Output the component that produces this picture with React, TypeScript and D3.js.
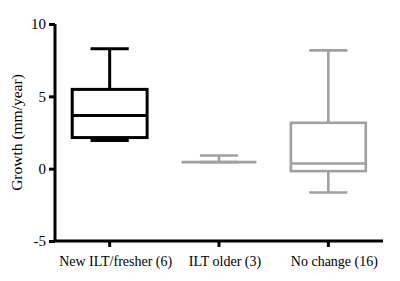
import { useEffect, useRef } from 'react';
import * as d3 from 'd3';

const categories = ['New ILT/fresher (6)', 'ILT older (3)', 'No change (16)'];
const mins = [1.95, 0.45, -1.65];
const q1s = [2.15, 0.45, -0.17];
const medians = [3.68, 0.45, 0.36];
const q3s = [5.48, 0.45, 3.17];
const maxs = [8.29, 0.91, 8.18];
const yTicks = [-5, 0, 5, 10];

const strokeColors = ['#000000', '#a0a0a0', '#a0a0a0'];

export default function App() {
  const svgRef = useRef<SVGSVGElement>(null);

  useEffect(() => {
    if (!svgRef.current) return;
    const width = 400;
    const height = 281;
    const margin = { top: 24, right: 17, bottom: 40, left: 55 };

    const svg = d3.select(svgRef.current);
    svg.selectAll('*').remove();
    svg.attr('width', width).attr('height', height);

    const x = d3.scaleBand()
      .domain(categories)
      .range([margin.left, width - margin.right])
      .padding(0);

    const y = d3.scaleLinear()
      .domain([-5, 10])
      .range([height - margin.bottom, margin.top]);

    const font = '"Liberation Serif", "Times New Roman", serif';

    // boxes
    const boxW = x.bandwidth() * 0.685;
    const capW = boxW * 0.51;
    categories.forEach((c, i) => {
      const cx = (x(c) || 0) + x.bandwidth() / 2;
      const color = strokeColors[i];
      const sw = i === 0 ? 3 : 2.6;
      const g = svg.append('g')
        .attr('stroke', color)
        .attr('stroke-width', sw)
        .attr('fill', 'none');

      // whiskers
      g.append('line')
        .attr('x1', cx).attr('x2', cx)
        .attr('y1', y(maxs[i])).attr('y2', y(q3s[i]));
      g.append('line')
        .attr('x1', cx).attr('x2', cx)
        .attr('y1', y(q1s[i])).attr('y2', y(mins[i]));
      g.append('line')
        .attr('x1', cx - capW / 2).attr('x2', cx + capW / 2)
        .attr('y1', y(maxs[i])).attr('y2', y(maxs[i]));
      g.append('line')
        .attr('x1', cx - capW / 2).attr('x2', cx + capW / 2)
        .attr('y1', y(mins[i])).attr('y2', y(mins[i]));

      // box
      g.append('rect')
        .attr('x', cx - boxW / 2)
        .attr('y', y(q3s[i]))
        .attr('width', boxW)
        .attr('height', Math.max(0, y(q1s[i]) - y(q3s[i])));
      g.append('line')
        .attr('x1', cx - boxW / 2).attr('x2', cx + boxW / 2)
        .attr('y1', y(medians[i])).attr('y2', y(medians[i]));
    });

    // y axis
    const yAxis = svg.append('g')
      .attr('transform', `translate(${margin.left},0)`)
      .call(d3.axisLeft(y).tickValues(yTicks).tickSize(6).tickPadding(3).tickFormat(d => String(d)));
    yAxis.select('.domain')
      .attr('d', `M0,${y(10)}V${y(-5)}`)
      .attr('stroke', '#000')
      .attr('stroke-width', 3);
    yAxis.selectAll('.tick line').attr('stroke-width', 3);
    yAxis.selectAll('.tick text')
      .style('font-family', font)
      .style('font-size', '15px')
      .attr('fill', '#000');

    // x axis
    const xAxis = svg.append('g')
      .attr('transform', `translate(0,${y(-5)})`)
      .call(d3.axisBottom(x).tickSize(6).tickPadding(9));
    xAxis.select('.domain')
      .attr('d', `M${margin.left - 1.5},0H${width - margin.right}`)
      .attr('stroke', '#000')
      .attr('stroke-width', 3);
    xAxis.selectAll('.tick line').attr('stroke-width', 3);
    xAxis.selectAll('.tick text')
      .attr('dx', 6)
      .style('font-family', font)
      .style('font-size', '14px')
      .attr('fill', '#000');

    // y label
    svg.append('text')
      .attr('transform', `translate(18,132.5) rotate(-90)`)
      .attr('text-anchor', 'middle')
      .attr('dominant-baseline', 'middle')
      .style('font-family', font)
      .style('font-size', '15.5px')
      .attr('fill', '#000')
      .text('Growth (mm/year)');
  }, []);

  return (
    <div style={{ position: 'absolute', left: 0, top: 0 }}>
      <svg ref={svgRef}></svg>
    </div>
  );
}
